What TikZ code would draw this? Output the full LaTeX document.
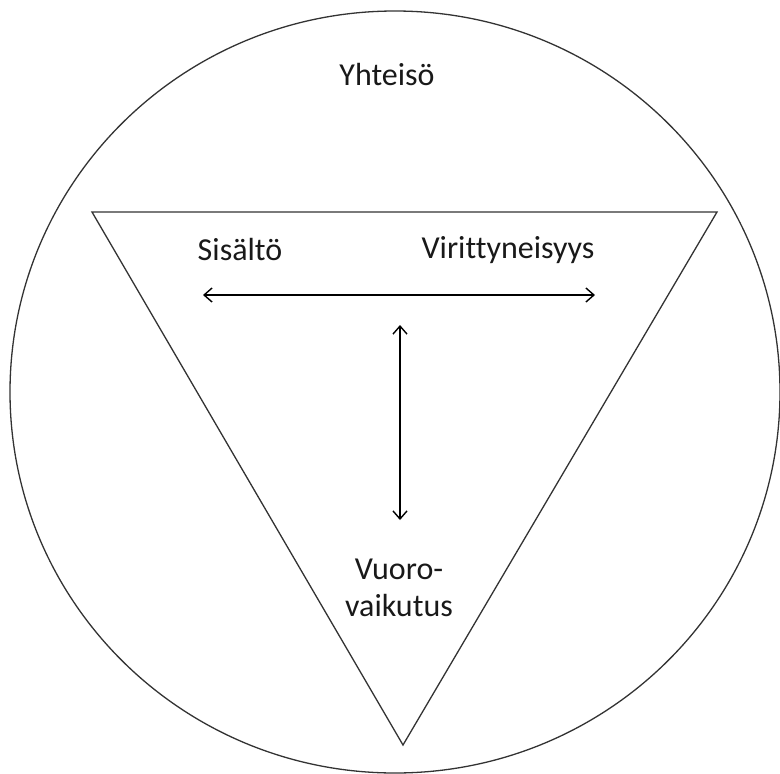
\documentclass[tikz,border=0pt]{standalone}
\usepackage{fontspec}
\setmainfont[Ligatures=NoCommon]{Carlito}
\usetikzlibrary{arrows.meta}
\begin{document}
\begin{tikzpicture}[x=1pt,y=-1pt,
  shape line/.style={draw=black!80, line width=1.3pt},
  link/.style={draw=black, line width=1.4pt, {Straight Barb[length=8pt,width=14pt]}-{Straight Barb[length=8pt,width=14pt]}},
  lbl/.style={font=\fontsize{32}{37}\selectfont, text=black!90, inner sep=0pt, align=center}]
\useasboundingbox (0,0) rectangle (780,774);
\draw[shape line] (395,392) ellipse [x radius=385, y radius=381];
\draw[shape line, line join=miter] (92,212) -- (717,212) -- (403,745) -- cycle;
\node[lbl] (yht) at (387,75) {Yhteisö};
\node[lbl] (sis) at (240,250) {Sisältö};
\node[lbl] (vir) at (508,250) {Virittyneisyys};
\node[lbl] (vuo) at (399,588) {Vuoro-\\vaikutus};
\coordinate (hl) at (203,295);
\coordinate (hr) at (595,295);
\coordinate (vt) at (400,325);
\coordinate (vb) at (400,520);
\draw[link] (hl) -- (hr);
\draw[link] (vt) -- (vb);
\end{tikzpicture}
\end{document}
